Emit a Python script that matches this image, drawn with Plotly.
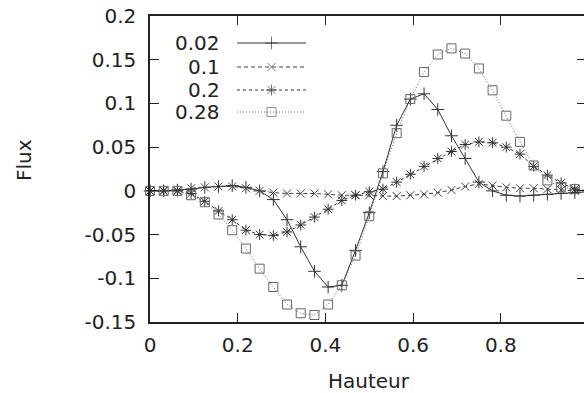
import plotly.graph_objects as go

# ---------------- data ----------------
hauteur = [round(i / 32, 5) for i in range(33)]

flux_002 = [0.0, 0.0, 0.001, 0.002, 0.004, 0.005, 0.006, 0.004, 0.0, -0.010,
            -0.033, -0.064, -0.092, -0.110, -0.108, -0.068, -0.025, 0.022, 0.075,
            0.105, 0.111, 0.093, 0.063, 0.037, 0.010, 0.000, -0.005, -0.006,
            -0.005, -0.004, -0.003, -0.002, -0.001]

flux_01 = [0.0, 0.0, 0.0, 0.003, 0.004, 0.005, 0.005, 0.003, 0.0, -0.002,
           -0.003, -0.003, -0.003, -0.004, -0.005, -0.005, -0.005, -0.006, -0.006,
           -0.005, -0.004, -0.002, 0.001, 0.005, 0.008, 0.006, 0.004, 0.003,
           0.003, 0.002, 0.001, 0.0, 0.0]

flux_02 = [0.0, 0.0, 0.0, -0.003, -0.012, -0.023, -0.033, -0.045, -0.050, -0.051,
           -0.047, -0.039, -0.030, -0.021, -0.011, -0.005, -0.001, 0.002, 0.010,
           0.019, 0.028, 0.037, 0.045, 0.053, 0.056, 0.055, 0.050, 0.042,
           0.028, 0.018, 0.009, 0.002, 0.0]

flux_028 = [0.0, 0.0, 0.0, -0.005, -0.013, -0.027, -0.045, -0.066, -0.089, -0.110,
            -0.130, -0.140, -0.142, -0.130, -0.108, -0.074, -0.029, 0.020, 0.066,
            0.105, 0.136, 0.156, 0.163, 0.157, 0.140, 0.115, 0.086, 0.056,
            0.029, 0.012, 0.004, 0.002, 0.0]

series_names = ["0.02", "0.1", "0.2", "0.28"]
series_values = [flux_002, flux_01, flux_02, flux_028]

x_tickvals = [0, 0.2, 0.4, 0.6, 0.8, 1.0]
x_ticktext = ["0", "0.2", "0.4", "0.6", "0.8", "1"]
y_tickvals = [-0.15, -0.1, -0.05, 0, 0.05, 0.1, 0.15, 0.2]
y_ticktext = ["-0.15", "-0.1", "-0.05", "0", "0.05", "0.1", "0.15", "0.2"]

# ---------------- styles ----------------
FONT = "DejaVu Sans"
TXT = "#222222"
styles = [
    dict(dash="solid", symbol="cross-thin-open", size=9, color="#333333"),
    dict(dash="4px,3px", symbol="x-thin-open", size=8, color="#444444"),
    dict(dash="3px,3px", symbol="asterisk-open", size=9, color="#333333"),
    dict(dash="1px,2px", symbol="square-open", size=9, color="#666666"),
]

W, H = 584, 393
ML, MR, MT, MB = 150, 0, 16, 71
plot_w = W - ML - MR
x_max = plot_w / 438.5  # x=1 lies just beyond the right edge

fig = go.Figure()

for name, vals, st in zip(series_names, series_values, styles):
    fig.add_trace(go.Scatter(
        x=hauteur, y=vals, mode="lines+markers", name=name,
        line=dict(color=st["color"], width=1, dash=st["dash"]),
        marker=dict(symbol=st["symbol"], size=st["size"], color=st["color"],
                    line=dict(width=1, color=st["color"])),
        cliponaxis=False, showlegend=False,
    ))

# right-side mirrored ticks (axis line itself is off-canvas)
fig.add_trace(go.Scatter(x=[0], y=[0], yaxis="y3", mode="markers",
                         marker=dict(opacity=0), showlegend=False, hoverinfo="skip"))

# manual legend (text to the left of sample), in an overlay paper-like axis
leg_rows_px = [43, 67, 90, 112]
leg_x0_px, leg_x1_px, leg_text_px = 237, 306, 222
annotations = []
for name, st, py in zip(series_names, styles, leg_rows_px):
    yy = 1 - (py - MT) / (H - MT - MB)
    x0 = (leg_x0_px - ML) / plot_w
    x1 = (leg_x1_px - ML) / plot_w
    xm = (x0 + x1) / 2
    fig.add_trace(go.Scatter(
        x=[x0, xm, x1], y=[yy, yy, yy], xaxis="x2", yaxis="y2",
        mode="lines+markers",
        line=dict(color=st["color"], width=1, dash=st["dash"]),
        marker=dict(symbol=st["symbol"], size=[0, st["size"], 0], color=st["color"],
                    line=dict(width=1, color=st["color"])),
        cliponaxis=False, showlegend=False, hoverinfo="skip",
    ))
    annotations.append(dict(
        x=(leg_text_px - ML) / plot_w, y=yy, xref="paper", yref="paper",
        text=name, showarrow=False, xanchor="right", yanchor="middle",
        font=dict(family=FONT, size=20, color=TXT),
    ))

annotations.append(dict(
    x=(24 - ML) / plot_w, y=1 - (160 - MT) / (H - MT - MB), xref="paper", yref="paper",
    text="Flux", textangle=-90, showarrow=False, xanchor="center", yanchor="middle",
    font=dict(family=FONT, size=20, color=TXT),
))
annotations.append(dict(
    x=(369 - ML) / plot_w, y=1 - (381 - MT) / (H - MT - MB), xref="paper", yref="paper",
    text="Hauteur", showarrow=False, xanchor="center", yanchor="middle",
    font=dict(family=FONT, size=20, color=TXT),
))

axis_common = dict(showgrid=False, zeroline=False, ticks="inside", ticklen=9,
                   tickcolor="#222222", tickwidth=1,
                   linecolor="#222222", linewidth=1.5,
                   tickfont=dict(family=FONT, size=20, color=TXT))

fig.update_layout(
    width=W, height=H,
    margin=dict(l=ML, r=MR, t=MT, b=MB, pad=0),
    paper_bgcolor="white", plot_bgcolor="white",
    showlegend=False,
    xaxis=dict(range=[0, x_max], tickvals=x_tickvals, ticktext=x_ticktext,
               showline=True, mirror="ticks", ticklabelstandoff=4, **axis_common),
    yaxis=dict(range=[-0.15, 0.2], tickvals=y_tickvals, ticktext=y_ticktext,
               showline=True, mirror=False, ticklabelstandoff=8, **axis_common),
    yaxis3=dict(range=[-0.15, 0.2], tickvals=y_tickvals, overlaying="y", side="right",
                anchor="x", showline=False, showticklabels=False, showgrid=False,
                zeroline=False, ticks="inside", ticklen=7, tickcolor="#222222"),
    xaxis2=dict(range=[0, 1], overlaying="x", visible=False),
    yaxis2=dict(range=[0, 1], overlaying="y", visible=False),
    annotations=annotations,
)

fig.write_html("out.html")
